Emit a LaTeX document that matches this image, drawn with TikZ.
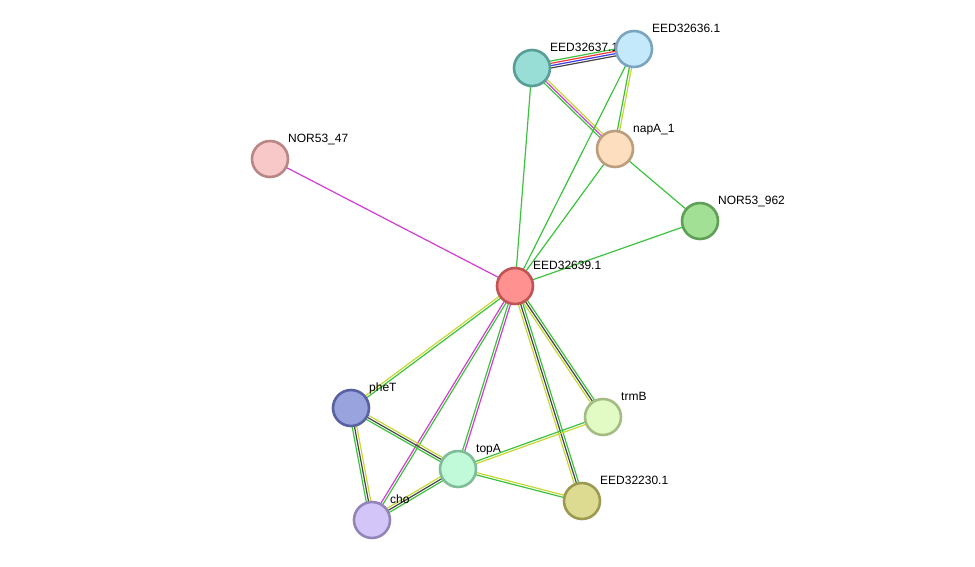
\documentclass[tikz,border=0pt]{standalone}
\usepackage{fontspec}
\setmainfont{Liberation Sans}
\usetikzlibrary{calc,backgrounds}

% evidence channel colours
\definecolor{evgreen}{HTML}{3DC23D}
\definecolor{evyellow}{HTML}{C5D834}
\definecolor{evmagenta}{HTML}{D23CD2}
\definecolor{evred}{HTML}{F43B3B}
\definecolor{evblue}{HTML}{3B3BF0}
\definecolor{evblack}{HTML}{454545}

% protein fill / rim colours
\definecolor{f639}{HTML}{FF9191}\definecolor{r639}{HTML}{C05454}
\definecolor{f637}{HTML}{98DED6}\definecolor{r637}{HTML}{589E96}
\definecolor{f636}{HTML}{C3E9FB}\definecolor{r636}{HTML}{7BA5BF}
\definecolor{fnapA}{HTML}{FDDFC0}\definecolor{rnapA}{HTML}{BC9D7E}
\definecolor{f47}{HTML}{F8C7C7}\definecolor{r47}{HTML}{B98686}
\definecolor{f962}{HTML}{A1E095}\definecolor{r962}{HTML}{5EA055}
\definecolor{fpheT}{HTML}{99A3DD}\definecolor{rpheT}{HTML}{5862A1}
\definecolor{ftopA}{HTML}{C1FAD9}\definecolor{rtopA}{HTML}{7FBC98}
\definecolor{fcho}{HTML}{D4C5F9}\definecolor{rcho}{HTML}{9484BA}
\definecolor{ftrmB}{HTML}{E2FBC5}\definecolor{rtrmB}{HTML}{A2BC83}
\definecolor{f230}{HTML}{DDDA92}\definecolor{r230}{HTML}{9C9A50}

\pgfdeclarelayer{labels}
\pgfsetlayers{background,labels,main}

% one edge = several thin parallel strokes, offset across the edge
\newcommand{\evlink}[3]{%
  \foreach \off/\col in {#3}
    \draw[evline,\col] ($(#1.center)!\off!90:(#2.center)$) -- ($(#2.center)!\off!-90:(#1.center)$);
}

\begin{document}
\begin{tikzpicture}[
  x=1pt, y=-1pt,
  prot/.style={circle,fill=f#1,draw=r#1,line width=2.6pt,minimum size=36pt,inner sep=0pt},
  plabel/.style={font=\fontsize{12}{14}\selectfont,anchor=base west,inner sep=0pt},
  evline/.style={line width=1.2pt}
]
  \useasboundingbox (0,0) rectangle (975,566);

  \node[prot=639] (n639) at (515,286) {};
  \node[prot=637] (n637) at (532,68) {};
  \node[prot=636] (n636) at (634,49) {};
  \node[prot=napA] (napA) at (615,149) {};
  \node[prot=47] (n47) at (270,159) {};
  \node[prot=962] (n962) at (700,221) {};
  \node[prot=pheT] (pheT) at (351,408) {};
  \node[prot=topA] (topA) at (458,469) {};
  \node[prot=cho] (cho) at (372,520) {};
  \node[prot=trmB] (trmB) at (603,417) {};
  \node[prot=230] (n230) at (582,501) {};

  \begin{pgfonlayer}{labels}
    \node[plabel] (t639) at ($(n639)+(18,-17)$) {EED32639.1};
    \node[plabel] (t637) at ($(n637)+(18,-17)$) {EED32637.1};
    \node[plabel] (t636) at ($(n636)+(18,-17)$) {EED32636.1};
    \node[plabel] (tnapA) at ($(napA)+(18,-17)$) {napA\_1};
    \node[plabel] (t47) at ($(n47)+(18,-17)$) {NOR53\_47};
    \node[plabel] (t962) at ($(n962)+(18,-17)$) {NOR53\_962};
    \node[plabel] (tpheT) at ($(pheT)+(18,-17)$) {pheT};
    \node[plabel] (ttopA) at ($(topA)+(18,-17)$) {topA};
    \node[plabel] (tcho) at ($(cho)+(18,-17)$) {cho};
    \node[plabel] (ttrmB) at ($(trmB)+(18,-17)$) {trmB};
    \node[plabel] (t230) at ($(n230)+(18,-17)$) {EED32230.1};
  \end{pgfonlayer}

  \begin{pgfonlayer}{background}
    % upper cluster
    \evlink{n637}{n636}{3.45pt/evgreen,1.15pt/evred,-1.15pt/evblue,-3.45pt/evblack}
    \evlink{n637}{napA}{2.3pt/evyellow,0pt/evmagenta,-2.3pt/evgreen}
    \evlink{n636}{napA}{1.15pt/evyellow,-1.15pt/evgreen}
    \evlink{n637}{n639}{0pt/evgreen}
    \evlink{n636}{n639}{0pt/evgreen}
    \evlink{napA}{n639}{0pt/evgreen}
    \evlink{napA}{n962}{0pt/evgreen}
    \evlink{n962}{n639}{0pt/evgreen}
    \evlink{n47}{n639}{0pt/evmagenta}
    % lower cluster
    \evlink{n639}{pheT}{1.15pt/evgreen,-1.15pt/evyellow}
    \evlink{n639}{cho}{1.15pt/evgreen,-1.15pt/evmagenta}
    \evlink{n639}{topA}{1.15pt/evmagenta,-1.15pt/evgreen}
    \evlink{n639}{n230}{2.3pt/evgreen,0pt/evblack,-2.3pt/evyellow}
    \evlink{n639}{trmB}{2.3pt/evgreen,0pt/evblack,-2.3pt/evyellow}
    \evlink{pheT}{topA}{2.3pt/evyellow,0pt/evblack,-2.3pt/evgreen}
    \evlink{pheT}{cho}{2.3pt/evyellow,0pt/evblack,-2.3pt/evgreen}
    \evlink{topA}{cho}{2.3pt/evgreen,0pt/evblack,-2.3pt/evyellow}
    \evlink{topA}{trmB}{1.15pt/evgreen,-1.15pt/evyellow}
    \evlink{topA}{n230}{1.15pt/evyellow,-1.15pt/evgreen}
  \end{pgfonlayer}
\end{tikzpicture}
\end{document}
